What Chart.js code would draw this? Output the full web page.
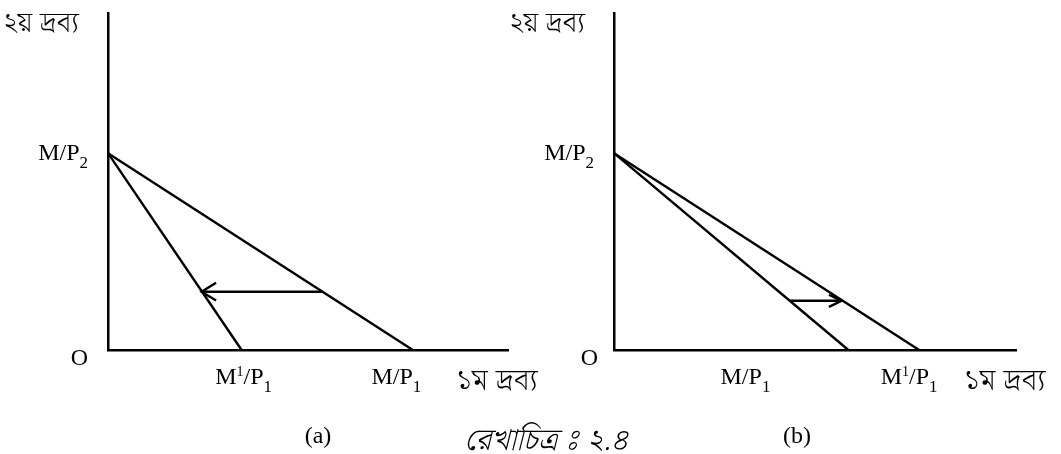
<!DOCTYPE html>
<html>
<head>
<meta charset="utf-8">
<script src="https://cdn.jsdelivr.net/npm/chart.js@4.4.0/dist/chart.umd.min.js"></script>
<style>
  html, body { margin: 0; padding: 0; background: #fff; }
  .wrap { position: absolute; left: 0; top: 0; width: 1061px; height: 454px; }
</style>
</head>
<body>
<div class="wrap"><canvas id="chartA"></canvas></div>
<div class="wrap"><canvas id="chartB"></canvas></div>
<script>
// panel (a): good 1 gets dearer, budget line swings in
const interceptA = 58.4;            // M/P2 on the y axis
const xInterceptsA = [76.2, 33.4];  // M/P1, M1/P1
const arrowXA = [53.4, 23.4];       // arrow from -> to
const arrowYA = 17.3;
const xLabelsA = ['M/P_1', 'M^1/P_1'];
const xLabelAtA = [72.1, 33.9];

// panel (b): good 1 gets cheaper, budget line swings out
const interceptB = 58.4;
const xInterceptsB = [58.3, 75.9];  // M/P1, M1/P1
const arrowXB = [43.6, 56.6];
const arrowYB = 14.6;
const xLabelsB = ['M/P_1', 'M^1/P_1'];
const xLabelAtB = [32.7, 73.4];

const yLabel = 'M/P_2';
const xName = '১ম দ্রব্য';
const yName = '২য় দ্রব্য';
// nbsp before the visarga so it does not get a dotted circle
const caption = 'রেখাচিত্র\u00A0ঃ ২.৪';

const serif = '"Liberation Serif", "Times New Roman", serif';
const bangla = '"Noto Serif Bengali", "Noto Sans Bengali", "Lohit Bengali", "Liberation Serif", serif';

// draws strings like "M^1/P_1" with a small superscript / subscript
function richParts(str) {
  let parts = [];
  for (let i = 0; i < str.length; i++) {
    let ch = str[i];
    if (ch === '^') { parts.push({t: str[++i], k: 'sup'}); }
    else if (ch === '_') { parts.push({t: str[++i], k: 'sub'}); }
    else { parts.push({t: ch, k: 'n'}); }
  }
  return parts;
}
function fontOf(k) {
  if (k === 'sup') return '14px ' + serif;
  if (k === 'sub') return '17px ' + serif;
  return '24px ' + serif;
}
function drawRich(ctx, str, x, y, align) {
  let parts = richParts(str);
  let w = 0;
  parts.forEach(p => { ctx.font = fontOf(p.k); p.w = ctx.measureText(p.t).width; w += p.w; });
  let cx = align === 'right' ? x - w : (align === 'center' ? x - w / 2 : x);
  ctx.textAlign = 'left';
  ctx.textBaseline = 'alphabetic';
  parts.forEach(p => {
    ctx.font = fontOf(p.k);
    let dy = p.k === 'sup' ? -8 : (p.k === 'sub' ? 8 : 0);
    ctx.fillText(p.t, cx, y + dy);
    cx += p.w;
  });
}

function arrowHead(ctx, from, to, len, spread) {
  let ang = Math.atan2(to.y - from.y, to.x - from.x);
  ctx.beginPath();
  ctx.moveTo(to.x - len * Math.cos(ang - spread), to.y - len * Math.sin(ang - spread));
  ctx.lineTo(to.x, to.y);
  ctx.lineTo(to.x - len * Math.cos(ang + spread), to.y - len * Math.sin(ang + spread));
  ctx.stroke();
}

function labelsPlugin(xLabels, xLabelAt, extra) {
  return {
    id: 'labels',
    afterDatasetsDraw(chart) {
      let ctx = chart.ctx;
      let xs = chart.scales.x, ys = chart.scales.y;
      let x0 = xs.getPixelForValue(0), y0 = ys.getPixelForValue(0);
      ctx.save();
      ctx.fillStyle = '#000';
      ctx.strokeStyle = '#000';
      ctx.lineWidth = 2.4;

      // arrow head on the shift arrow
      let pts = chart.getDatasetMeta(2).data;
      arrowHead(ctx, pts[0], pts[1], extra.headLen, extra.headSpread);

      // y intercept label and origin
      let yInt = chart.data.datasets[0].data[0].y;
      drawRich(ctx, yLabel, x0 - 20, ys.getPixelForValue(yInt) + 7, 'right');
      ctx.font = '24px ' + serif;
      ctx.textAlign = 'right';
      ctx.fillText('O', x0 - extra.oGap, y0 + 15);

      // x intercept labels
      xLabels.forEach((s, i) => drawRich(ctx, s, xs.getPixelForValue(xLabelAt[i]), y0 + 34, 'center'));

      // axis names
      ctx.font = '300 30px ' + bangla;
      ctx.textAlign = 'center';
      ctx.fillText(xName, xs.getPixelForValue(97.2), y0 + 40);
      ctx.font = '300 28px ' + bangla;
      ctx.textAlign = 'right';
      ctx.fillText(yName, x0 - 29, ys.getPixelForValue(100) + 19);

      // panel tag and caption
      ctx.font = '24px ' + serif;
      ctx.textAlign = 'center';
      ctx.fillText(extra.tag, xs.getPixelForValue(extra.tagAt), y0 + 93);
      if (extra.caption) {
        ctx.font = 'italic 300 31px ' + bangla;
        ctx.fillText(caption, xs.getPixelForValue(109.5), y0 + 100);
      }
      ctx.restore();
    }
  };
}

function lineSet(points) {
  return {
    data: points,
    showLine: true,
    pointRadius: 0,
    borderColor: '#000',
    borderWidth: 2.4,
    clip: false
  };
}

function panel(id, intercept, xInts, arrowX, arrowY, padding, plugin) {
  let axis = {
    type: 'linear', min: 0, max: 100, display: true,
    grid: {display: false, drawTicks: false},
    ticks: {display: false},
    border: {display: true, color: '#000', width: 2.5}
  };
  return new Chart(document.getElementById(id), {
    type: 'scatter',
    data: {
      datasets: [
        lineSet([{x: 0, y: intercept}, {x: xInts[0], y: 0}]),
        lineSet([{x: 0, y: intercept}, {x: xInts[1], y: 0}]),
        lineSet([{x: arrowX[0], y: arrowY}, {x: arrowX[1], y: arrowY}])
      ]
    },
    options: {
      responsive: true,
      maintainAspectRatio: false,
      animation: false,
      layout: {padding: padding},
      plugins: {legend: {display: false}, tooltip: {enabled: false}},
      scales: {x: axis, y: Object.assign({}, axis)}
    },
    plugins: [plugin]
  });
}

panel('chartA', interceptA, xInterceptsA, arrowXA, arrowYA,
  {left: 108, right: 553, top: 13, bottom: 104},
  labelsPlugin(xLabelsA, xLabelAtA, {oGap: 20, tag: '(a)', tagAt: 52.5, caption: true, headLen: 17, headSpread: 0.55}));

panel('chartB', interceptB, xInterceptsB, arrowXB, arrowYB,
  {left: 614, right: 45, top: 13, bottom: 104},
  labelsPlugin(xLabelsB, xLabelAtB, {oGap: 16, tag: '(b)', tagAt: 45.5, caption: false, headLen: 14, headSpread: 0.45}));
</script>
</body>
</html>
